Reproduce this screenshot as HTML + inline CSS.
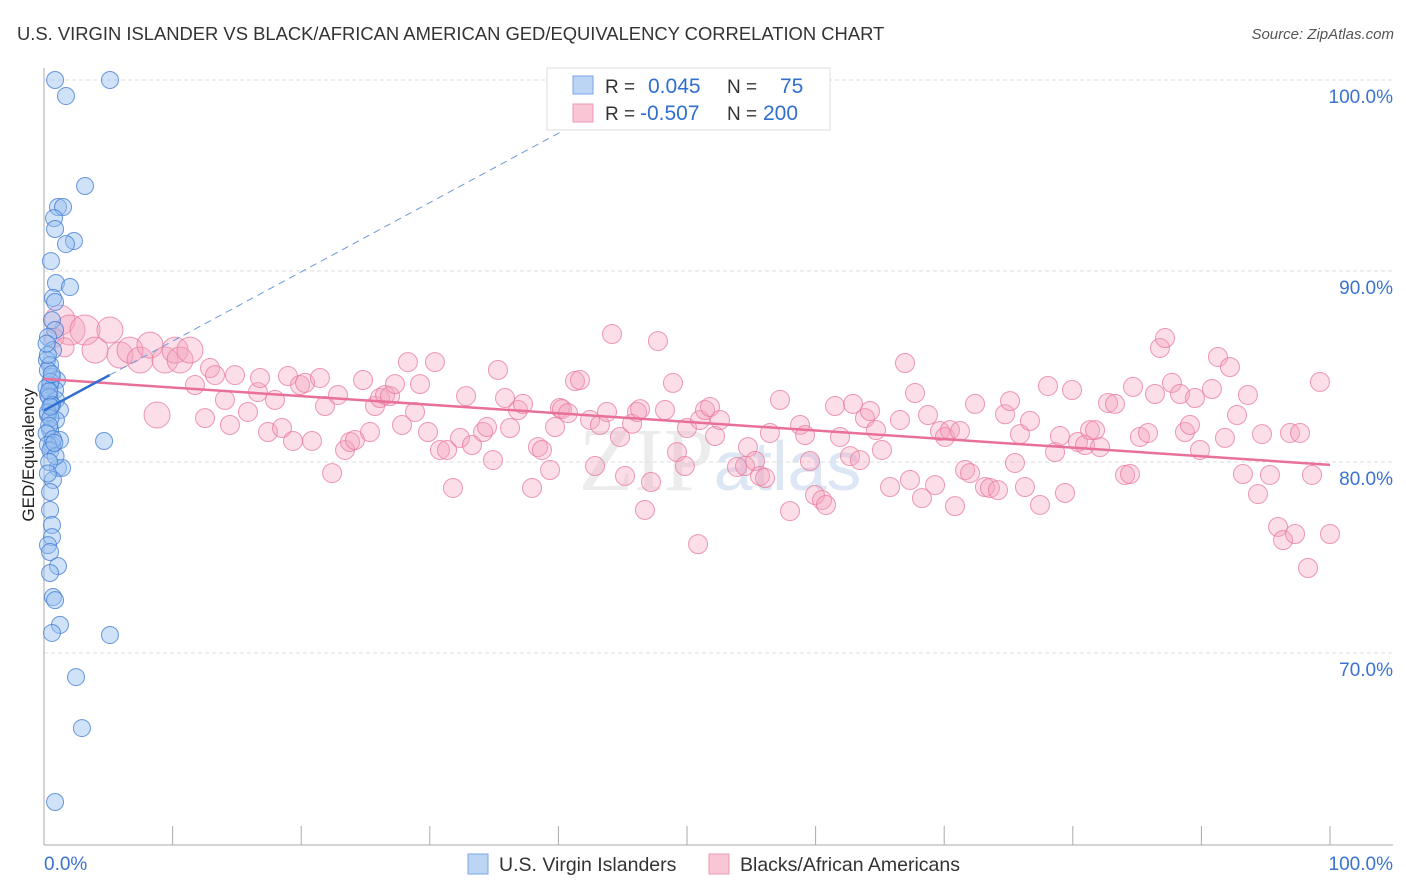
<!DOCTYPE html>
<html><head><meta charset="utf-8"><style>
body{margin:0;background:#fff;font-family:"Liberation Sans",sans-serif;}
#wrap{position:relative;width:1406px;height:892px;overflow:hidden;}
</style></head><body>
<div id="wrap">
<svg id="svg" width="1406" height="892" xmlns="http://www.w3.org/2000/svg">
<text x="17" y="40" font-size="18.4" fill="#333">U.S. VIRGIN ISLANDER VS BLACK/AFRICAN AMERICAN GED/EQUIVALENCY CORRELATION CHART</text>
<text x="1394" y="39" font-size="15" fill="#555" font-style="italic" text-anchor="end">Source: ZipAtlas.com</text>
<text x="720" y="490" font-size="90" fill="#ececec" text-anchor="middle" font-family="Liberation Serif,serif">ZIP<tspan fill="#dde6f4" font-family="Liberation Sans,sans-serif" font-size="70">atlas</tspan></text>
<text transform="translate(34,455) rotate(-90)" font-size="17" fill="#222" text-anchor="middle">GED/Equivalency</text>
<g id="grid"></g><g id="pink"></g><g id="blue"></g><g id="trend"></g>
<g>
<rect x="547" y="68" width="283" height="62" fill="#fff" stroke="#ddd"/>
<rect x="573" y="76" width="20" height="18" fill="#bcd5f5" stroke="#7aa6e6"/>
<rect x="573" y="104" width="20" height="18" fill="#f9c6d6" stroke="#ee9ab4"/>
<text x="605" y="93" font-size="19" fill="#333">R = <tspan fill="#2f6fd0" x="648" font-size="21">0.045</tspan><tspan x="727" fill="#333">N =</tspan><tspan x="780" fill="#2f6fd0" font-size="21">75</tspan></text>
<text x="605" y="120" font-size="19" fill="#333">R = <tspan fill="#2f6fd0" x="640" font-size="21">-0.507</tspan><tspan x="727" fill="#333">N =</tspan><tspan x="763" fill="#2f6fd0" font-size="21">200</tspan></text>
</g>
<g>
<rect x="468" y="854" width="20" height="20" fill="#bcd5f5" stroke="#7aa6e6"/>
<text x="499" y="871" font-size="19.5" fill="#333">U.S. Virgin Islanders</text>
<rect x="709" y="854" width="20" height="20" fill="#f9c6d6" stroke="#ee9ab4"/>
<text x="740" y="871" font-size="19.5" fill="#333">Blacks/African Americans</text>
</g>
</svg>
</div>
<script>
const yTicks=[100,90,80,70];
const yTickLabels=["100.0%","90.0%","80.0%","70.0%"];
const xTickLabels=["0.0%","100.0%"];
const blueX=[0.86,5.13,1.71,3.19,1.09,1.48,0.78,0.86,2.33,1.71,0.54,0.93,2.02,0.7,0.86,0.62,0.86,0.31,0.7,0.23,0.47,0.62,1.01,0.47,0.86,0.31,0.93,0.62,1.24,0.31,0.93,0.47,1.24,0.62,4.67,1.09,1.4,0.7,0.47,0.47,0.62,0.62,0.31,0.47,1.09,0.47,0.7,0.86,1.24,0.62,5.13,2.49,2.95,0.86,0.3,0.5,0.2,0.4,0.6,0.3,0.5,0.4,0.2,0.7,0.3,0.5,0.9,0.4,0.6,0.3,0.2,0.5,0.8,0.4,0.3];
const blueY=[100,100,99.16,94.45,93.35,93.35,92.77,92.2,91.57,91.41,90.52,89.37,89.16,88.59,88.38,87.43,86.91,86.54,85.86,85.34,85.08,84.45,84.29,84.03,83.77,83.51,83.25,82.98,82.72,82.46,82.2,81.68,81.15,80.89,81.1,79.69,79.69,79.06,78.43,77.49,76.7,76.07,75.65,75.29,74.55,74.19,72.93,72.77,71.47,71.05,70.94,68.74,66.07,62.2,84.8,84.2,83.9,83.4,83.0,82.6,82.3,81.9,81.5,81.2,80.9,80.6,80.3,83.7,84.6,85.6,86.2,82.9,81.0,80.0,79.4];
const pinkX=[1.24,2.02,3.19,3.97,5.13,5.91,6.69,7.47,8.24,9.41,10.19,10.58,11.35,8.79,11.74,12.91,13.3,12.52,14.07,14.46,14.85,15.86,16.64,16.8,17.42,17.96,18.51,18.97,19.36,19.91,20.3,20.84,21.46,21.85,22.4,22.86,23.41,23.8,24.18,24.81,25.35,25.74,26.13,26.52,26.91,27.29,27.84,28.3,28.85,29.24,29.86,30.4,30.79,31.34,31.8,32.35,32.82,33.28,34.14,34.45,34.91,35.3,35.85,36.24,36.86,37.25,37.95,38.41,38.72,39.35,39.74,40.12,40.28,40.75,41.29,41.68,42.46,42.85,43.23,43.78,44.17,44.79,45.18,45.73,46.11,46.35,46.73,47.2,47.74,48.29,48.91,49.22,49.84,50.0,50.86,51.01,51.4,51.79,52.18,52.57,53.89,54.51,54.74,55.29,55.68,56.07,56.45,57.23,58.01,58.79,59.18,59.56,59.95,60.5,60.81,61.51,61.9,62.68,62.91,63.45,63.84,64.23,64.7,65.16,65.79,66.56,66.95,67.34,67.73,68.27,68.74,69.29,69.67,70.06,70.45,70.84,71.23,71.62,72.01,72.4,73.17,73.56,74.18,74.73,75.12,75.5,75.89,76.28,76.67,77.45,78.07,78.62,79.0,79.39,79.94,80.4,80.95,81.34,81.73,82.12,82.74,83.28,84.06,84.45,84.68,85.22,85.85,86.39,86.78,87.17,87.71,88.34,88.72,89.11,89.5,89.89,90.82,91.29,91.83,92.22,92.77,93.23,93.62,94.4,94.71,95.33,95.96,96.35,96.89,97.28,97.67,98.29,98.6,99.22,100,0.8,1.6];
const pinkY=[87.43,86.91,86.91,85.86,86.91,85.6,85.86,85.34,86.12,85.34,85.86,85.34,85.86,82.46,84.03,84.92,84.55,82.3,83.25,81.94,84.55,82.62,83.66,84.4,81.57,83.25,81.78,84.5,81.1,84.03,84.14,81.1,84.4,82.93,79.42,83.51,80.63,81.05,81.15,84.29,81.57,82.93,83.35,83.51,83.45,84.08,81.94,85.23,82.62,84.08,81.57,85.23,80.63,80.63,78.64,81.26,83.45,80.89,81.57,81.83,80.1,84.82,83.35,81.78,82.72,83.04,78.64,80.78,80.63,79.58,81.83,82.83,82.77,82.56,84.24,84.29,82.2,79.79,81.94,82.62,86.7,81.31,79.27,82.0,82.62,82.77,77.49,78.95,86.33,82.72,84.14,80.52,79.79,81.78,75.7,82.2,82.72,82.88,81.36,82.2,79.74,79.79,80.78,80.05,79.27,79.16,81.52,83.25,77.43,81.94,81.41,80.05,78.27,78.01,77.75,82.93,81.31,80.31,83.04,80.1,82.3,82.67,81.67,80.63,78.69,82.2,85.18,79.06,83.61,78.11,82.46,78.79,81.62,81.31,81.67,77.69,81.62,79.58,79.42,83.04,78.69,78.64,78.53,82.5,83.19,79.95,81.46,78.69,82.15,77.75,83.98,80.52,81.36,78.38,83.77,81.05,80.89,81.67,81.67,80.78,83.09,83.04,79.32,79.37,83.93,81.31,81.52,83.56,85.97,86.49,84.14,83.56,81.57,81.94,83.35,80.63,83.82,85.5,81.26,84.97,82.46,79.37,83.51,78.32,81.46,79.32,76.6,75.91,81.52,76.23,81.52,74.45,79.32,84.19,76.23,86.5,86.0];
const pinkTrend=[84.35,79.85];
const blueTrend=[82.7,84.55,5.1];
const X0=44,X1=1330,Y100=80,Y90=271;
const xs=v=>X0+(X1-X0)*v/100;
const ys=v=>Y100+(100-v)*(Y90-Y100)/10;
const NS="http://www.w3.org/2000/svg";
function mk(tag,attrs,parent){const e=document.createElementNS(NS,tag);for(const k in attrs)e.setAttribute(k,attrs[k]);document.getElementById(parent).appendChild(e);return e;}
yTicks.forEach((t,i)=>{
 const l=mk('line',{x1:X0,x2:1393,y1:ys(t),y2:ys(t),stroke:'#ddd','stroke-dasharray':'4,3'},'grid');
 
 
 const tx=mk('text',{x:1393,y:ys(t)+23,'font-size':19,fill:'#3a73cf','text-anchor':'end'},'grid');
 tx.textContent=yTickLabels[i];
 
 
});
const ax=mk('line',{x1:X0,x2:X0,y1:68,y2:845,stroke:'#aaa'},'grid');


const bx=mk('line',{x1:X0,x2:1393,y1:845,y2:845,stroke:'#aaa'},'grid');


for(let i=1;i<=10;i++){const t=mk('line',{x1:xs(i*10),x2:xs(i*10),y1:826,y2:845,stroke:'#aaa'},'grid');
 
 }
[[0,'start'],[100,'end']].forEach((p,i)=>{const t=mk('text',{x:p[0]==0?44:1393,y:870,'font-size':19,fill:'#3a73cf','text-anchor':p[1]},'grid');
 t.textContent=xTickLabels[i];
 
 });
pinkX.forEach((v,i)=>{const r=i<14?(i<3?15:13):9.5;const c=mk('circle',{cx:xs(v),cy:ys(pinkY[i]),r:r,fill:'rgba(244,160,188,0.35)',stroke:'rgba(232,120,155,0.75)','stroke-width':1},'pink');
 
 });
blueX.forEach((v,i)=>{const c=mk('circle',{cx:xs(v),cy:ys(blueY[i]),r:8.5,fill:'rgba(150,190,240,0.45)',stroke:'rgba(60,120,210,0.75)','stroke-width':1},'blue');
 
 });
const pt=mk('line',{x1:xs(0),y1:ys(pinkTrend[0]),x2:xs(100),y2:ys(pinkTrend[1]),stroke:'#e8709a','stroke-width':2.5},'trend');


const slope=(blueTrend[1]-blueTrend[0])/blueTrend[2];
const xe=(100-blueTrend[0])/slope;
const bd=mk('line',{x1:xs(blueTrend[2]),y1:ys(blueTrend[1]),x2:xs(xe),y2:ys(100),stroke:'#6a9ad8','stroke-width':1,'stroke-dasharray':'7,5'},'trend');


const bt=mk('line',{x1:xs(0),y1:ys(blueTrend[0]),x2:xs(blueTrend[2]),y2:ys(blueTrend[1]),stroke:'#2f6fd0','stroke-width':2.5},'trend');


</script>
</body></html>
